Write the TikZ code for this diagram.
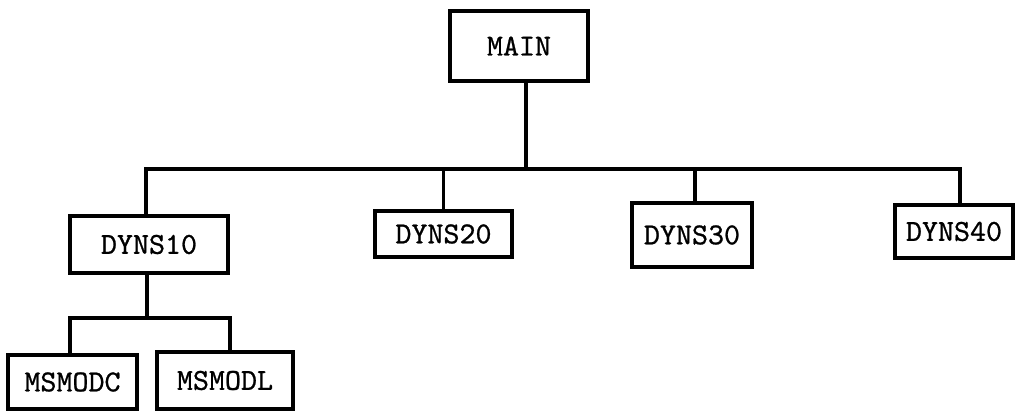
\documentclass[tikz,border=0pt]{standalone}
\usepackage{fontspec}
\newfontfamily\boxfont{lmmono10-regular.otf}[FakeBold=0.8]
\begin{document}
\begin{tikzpicture}[x=1pt,y=-1pt,
  box/.style={draw, line width=3.6pt, inner sep=0pt, font=\boxfont\fontsize{30.5}{30.5}\selectfont},
  conn/.style={line width=3.6pt, line cap=rect}]
\useasboundingbox (0,0) rectangle (1016,411);
\node[box, minimum width=138pt, minimum height=70pt] (main) at (519,46) {MAIN};
\node[box, minimum width=158pt, minimum height=57pt] (d10) at (149,244.5) {DYNS10};
\node[box, minimum width=137pt, minimum height=46pt] (d20) at (443.5,234) {DYNS20};
\node[box, minimum width=120pt, minimum height=64pt] (d30) at (692,235) {DYNS30};
\node[box, minimum width=118pt, minimum height=53pt] (d40) at (954,231.5) {DYNS40};
\node[box, minimum width=129pt, minimum height=54pt] (mc) at (72.5,382) {MSMODC};
\node[box, minimum width=136pt, minimum height=57pt] (ml) at (225,380.5) {MSMODL};
\coordinate (bus) at (526,169);
\coordinate (x146) at (146,0);
\coordinate (x960) at (960,0);
\coordinate (x695) at (695,0);
\coordinate (x70) at (70,0);
\coordinate (x230) at (230,0);
\coordinate (sub) at (147,318);
\draw[conn] (main.south -| bus) -- (bus);
\draw[conn] (d10.north -| x146) |- (bus) -| (d40.north -| x960);
\draw[conn] (d20.north) -- (d20.north |- bus);
\draw[conn] (d30.north -| x695) -- (x695 |- bus);
\draw[conn] (d10.south -| sub) -- (sub);
\draw[conn] (mc.north -| x70) |- (sub) -| (ml.north -| x230);
\end{tikzpicture}
\end{document}
